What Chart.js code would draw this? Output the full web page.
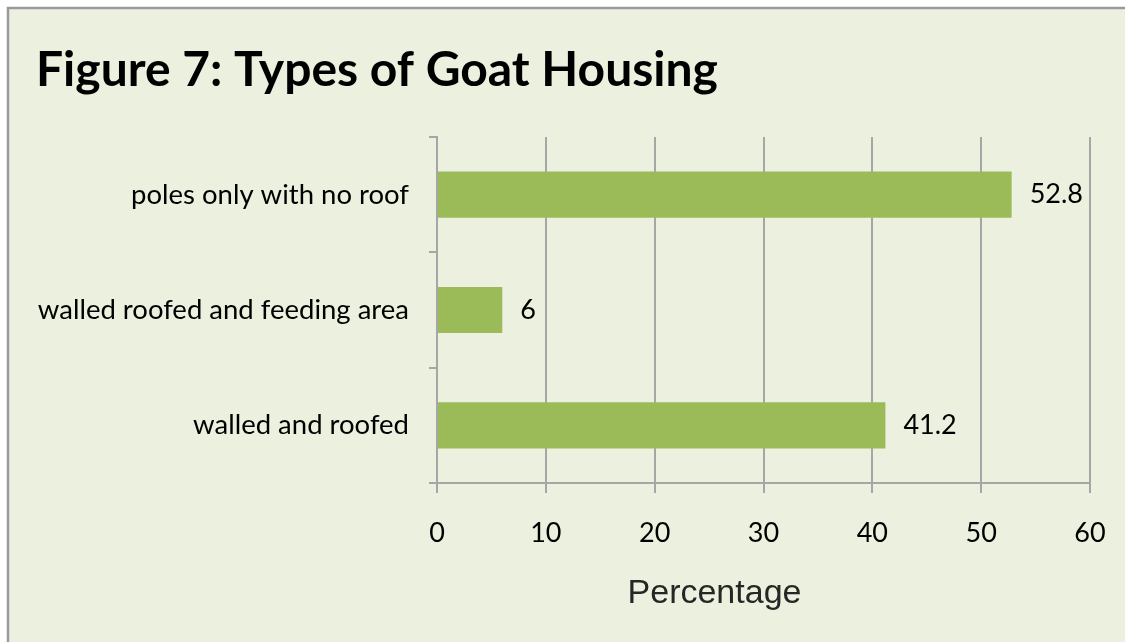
<!DOCTYPE html>
<html>
<head>
<meta charset="utf-8">
<title>Figure 7: Types of Goat Housing</title>
<script src="https://cdn.jsdelivr.net/npm/chart.js@4.4.1/dist/chart.umd.min.js"></script>
<style>
  html, body { margin: 0; padding: 0; background: #fff; }
  #wrap { width: 1125px; height: 642px; }
  canvas { display: block; }
</style>
</head>
<body>
<div id="wrap"><canvas id="housingChart" width="1125" height="642"></canvas></div>
<script>
// chart data
const categories = ['poles only with no roof', 'walled roofed and feeding area', 'walled and roofed'];
const percentages = [52.8, 6, 41.2];
const axisMin = 0;
const axisMax = 60;
const axisStep = 10;
const axisTitle = 'Percentage';

const GRID = '#a6a6a6';
const BAR = '#9bbb59';
const FONT = 'Lato, "Open Sans", sans-serif';

// panel background + frame
const backdrop = {
  id: 'backdrop',
  beforeDraw(chart) {
    const ctx = chart.ctx;
    ctx.save();
    ctx.fillStyle = '#ffffff';
    ctx.fillRect(0, 0, chart.width, chart.height);
    ctx.fillStyle = '#ebf1de';
    ctx.fillRect(8, 8, chart.width, chart.height);
    ctx.strokeStyle = '#9a9a9a';
    ctx.lineWidth = 2.5;
    ctx.beginPath();
    ctx.moveTo(8, chart.height + 5);
    ctx.lineTo(8, 8);
    ctx.lineTo(chart.width + 5, 8);
    ctx.stroke();
    ctx.restore();
  }
};

// value labels to the right of each bar, plus the x axis title
// (the original centres the axis title a bit left of the plot centre)
const valueLabels = {
  id: 'valueLabels',
  afterDatasetsDraw(chart) {
    const ctx = chart.ctx;
    const meta = chart.getDatasetMeta(0);
    ctx.save();
    ctx.font = '27px ' + FONT;
    ctx.fillStyle = '#000';
    ctx.textAlign = 'left';
    ctx.textBaseline = 'middle';
    meta.data.forEach((bar, i) => {
      ctx.fillText(String(percentages[i]), bar.x + 18, bar.y);
    });

    const area = chart.chartArea;
    ctx.font = '34px "Liberation Sans", Arial, sans-serif';
    ctx.fillStyle = '#262626';
    ctx.textAlign = 'center';
    ctx.fillText(axisTitle, (area.left + area.right) / 2 - 49, 594);
    ctx.restore();
  }
};

const ctx = document.getElementById('housingChart').getContext('2d');
new Chart(ctx, {
  type: 'bar',
  data: {
    labels: categories,
    datasets: [{
      data: percentages,
      backgroundColor: BAR,
      borderWidth: 0,
      categoryPercentage: 1,
      barPercentage: 0.4
    }]
  },
  options: {
    indexAxis: 'y',
    responsive: false,
    animation: false,
    devicePixelRatio: 1,
    layout: { padding: { left: 36, right: 35, top: 0, bottom: 0 } },
    plugins: {
      legend: { display: false },
      tooltip: { enabled: false },
      title: {
        display: true,
        text: 'Figure 7: Types of Goat Housing',
        align: 'start',
        color: '#000',
        font: { family: FONT, size: 48, weight: 'bold', lineHeight: 1.2 },
        padding: { top: 42, bottom: 37.4 }
      }
    },
    scales: {
      x: {
        min: axisMin,
        max: axisMax,
        ticks: { stepSize: axisStep, color: '#000', font: { family: FONT, size: 27 }, padding: 24, maxRotation: 0, minRotation: 0 },
        grid: { color: GRID, lineWidth: 2, tickLength: 10, drawTicks: true },
        border: { color: GRID, width: 2 },
        afterFit(scale) {
          scale.height = 159;
          scale.paddingRight = 0;
        }
      },
      y: {
        offset: true,
        ticks: { color: '#000', font: { family: FONT, size: 27.5 }, padding: 20 },
        grid: { offset: true, drawOnChartArea: false, color: GRID, lineWidth: 2, tickLength: 8 },
        border: { color: GRID, width: 2 },
        afterFit(scale) { scale.width = 437 - 36; }
      }
    }
  },
  plugins: [backdrop, valueLabels]
});
</script>
</body>
</html>
